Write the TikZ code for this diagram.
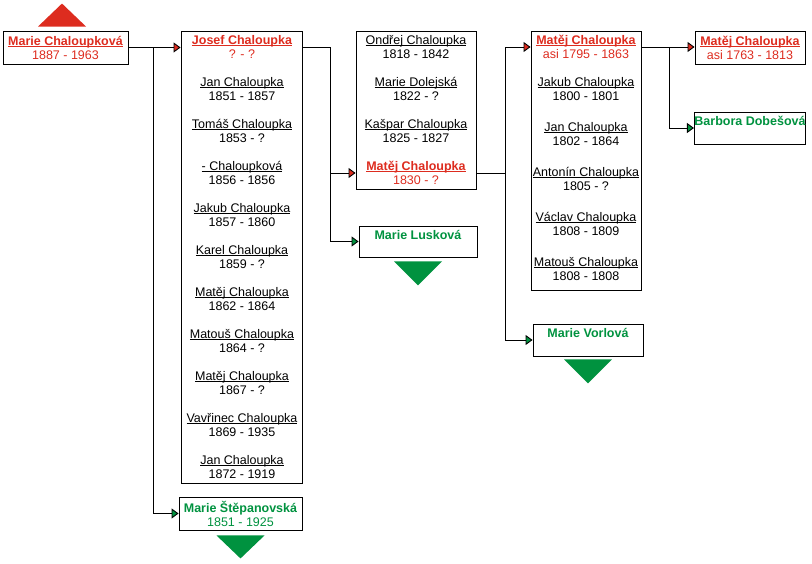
\documentclass[tikz,border=0pt]{standalone}
\usepackage{fontspec}
\setmainfont{Liberation Sans}
\usepackage{tikz}
\usetikzlibrary{arrows.meta}
\definecolor{famred}{RGB}{221,44,31}
\definecolor{famgreen}{RGB}{0,146,63}
\newcommand{\uname}[1]{\setbox0\hbox{#1}\rlap{\rule[-1.6pt]{\wd0}{0.8pt}}\box0}
\tikzstyle{card} = [draw, line width=0.9pt, inner sep=0pt, align=center,
    font=\fontsize{12.5}{14}\selectfont]
\tikzstyle{kid} = [inner sep=0pt, align=center,
    font=\fontsize{12.5}{14}\selectfont]
\tikzset{tored/.style={-{Triangle[length=7pt,width=10pt,fill=famred]}},
    togreen/.style={-{Triangle[length=7pt,width=10pt,fill=famgreen]}}}

\begin{document}
\begin{tikzpicture}[x=1pt,y=-1pt,line width=0.9pt]
\useasboundingbox (0,0) rectangle (812,564);
%start person
\node[card, text=famred, minimum width=125, minimum height=33] (b1) at (65.5,47.5)
    {\uname{\textbf{Marie Chaloupková}}\\1887 - 1963};
\fill[famred, shift={(b1.north)}] (-27.5,-4) -- (20.5,-4) -- (-3.5,-27) -- cycle;
%father and his siblings
\node[card, minimum width=121, minimum height=452] (b2) at (241.5,257) {};
\node[kid, text=famred] (j0) at (242,47) {\uname{\textbf{Josef Chaloupka}}\\? - ?};
\foreach \n/\d [count=\i] in {Jan Chaloupka/1851 - 1857, Tomáš Chaloupka/1853 - ?,
    - Chaloupková/1856 - 1856, Jakub Chaloupka/1857 - 1860, Karel Chaloupka/1859 - ?,
    Matěj Chaloupka/1862 - 1864, Matouš Chaloupka/1864 - ?, Matěj Chaloupka/1867 - ?,
    Vavřinec Chaloupka/1869 - 1935, Jan Chaloupka/1872 - 1919}
    {\node[kid] (j\i) at (242,47+42*\i) {\uname{\n}\\\d};}
%mother
\node[card, text=famgreen, minimum width=123, minimum height=33] (s1) at (240.5,513.5)
    {\textbf{Marie Štěpanovská}\\1851 - 1925};
\fill[famgreen, shift={(s1.south)}] (-24,5) -- (24,5) -- (0,28) -- cycle;
\coordinate (t1) at (153,0);
\draw[tored] (b1.east) -- (b2.west |- b1.east);
\draw[togreen] (t1 |- b1.east) |- (s1.west);
%grandfather and his siblings
\node[card, minimum width=120, minimum height=158] (b3) at (416,110) {};
\foreach \n/\d [count=\i] in {Ondřej Chaloupka/1818 - 1842, Marie Dolejská/1822 - ?,
    Kašpar Chaloupka/1825 - 1827}
    {\node[kid] (o\i) at (416,5+42*\i) {\uname{\n}\\\d};}
\node[kid, text=famred] (o4) at (416,173) {\uname{\textbf{Matěj Chaloupka}}\\1830 - ?};
\node[card, text=famgreen, minimum width=118, minimum height=31] (l1) at (418,241.5)
    {\textbf{Marie Lusková}\\\mbox{}};
\fill[famgreen, shift={(l1.south)}] (-24,4) -- (24,4) -- (0,28) -- cycle;
\coordinate (t2) at (330,0);
\draw[tored] (b2.east |- j0) -- (t2 |- j0) -- (t2 |- o4) -- (b3.west |- o4);
\draw[togreen] (t2 |- o4) |- (l1.west);
%great-grandfather and his siblings
\node[card, minimum width=110, minimum height=259] (b4) at (586,160.5) {};
\node[kid, text=famred] (m0) at (586,47) {\uname{\textbf{Matěj Chaloupka}}\\asi 1795 - 1863};
\foreach \n/\d/\y [count=\i] in {Jakub Chaloupka/1800 - 1801/89, Jan Chaloupka/1802 - 1864/134,
    Antonín Chaloupka/1805 - ?/179, Václav Chaloupka/1808 - 1809/224,
    Matouš Chaloupka/1808 - 1808/269}
    {\node[kid] (m\i) at (586,\y) {\uname{\n}\\\d};}
\node[card, text=famgreen, minimum width=110, minimum height=32] (v1) at (588,340)
    {\textbf{Marie Vorlová}\\\mbox{}};
\fill[famgreen, shift={(v1.south)}] (-24,3) -- (24,3) -- (0,27) -- cycle;
\coordinate (t3) at (505,0);
\draw[tored] (b3.east |- o4) -- (t3 |- o4) -- (t3 |- m0) -- (b4.west |- m0);
\draw[togreen] (t3 |- o4) |- (v1.west);
%last generation
\node[card, text=famred, minimum width=110, minimum height=33] (b5) at (750,47.5)
    {\uname{\textbf{Matěj Chaloupka}}\\asi 1763 - 1813};
\node[card, text=famgreen, minimum width=110, minimum height=32] (d1) at (750,128)
    {\textbf{Barbora Dobešová}\\\mbox{}};
\coordinate (t4) at (669,0);
\draw[tored] (b4.east |- m0) -- (b5.west |- m0);
\draw[togreen] (t4 |- m0) |- (d1.west);
\end{tikzpicture}
\end{document}
